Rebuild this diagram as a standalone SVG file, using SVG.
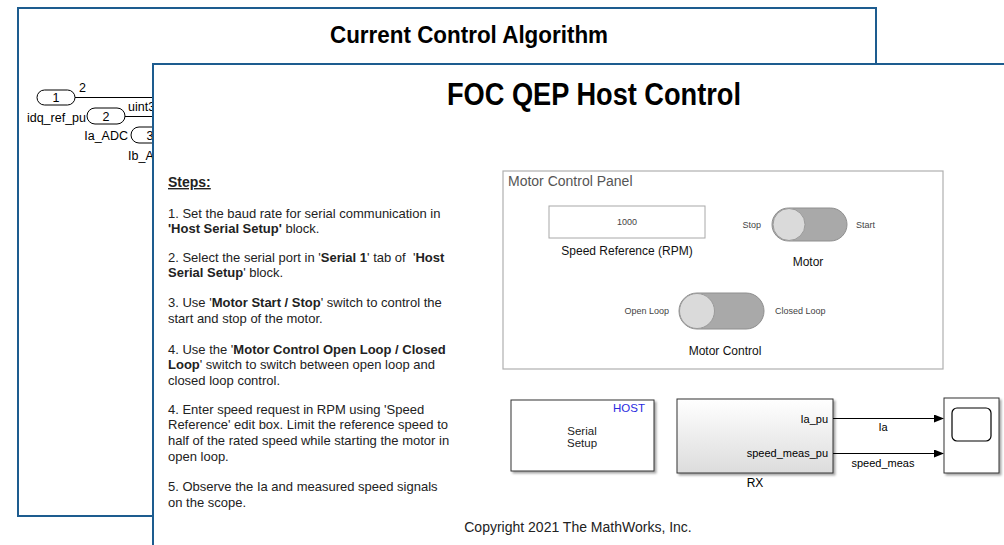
<svg xmlns="http://www.w3.org/2000/svg" width="1004" height="545" viewBox="0 0 1004 545">
  <defs>
    <linearGradient id="blockGrad" x1="0" y1="0" x2="0" y2="1">
      <stop offset="0" stop-color="#ffffff"/>
      <stop offset="1" stop-color="#dcdcdc"/>
    </linearGradient>
    <filter id="shadow" x="-10%" y="-10%" width="130%" height="130%">
      <feDropShadow dx="2" dy="2" stdDeviation="1.2" flood-color="#000" flood-opacity="0.35"/>
    </filter>
    <marker id="arrow" markerWidth="10" markerHeight="8" refX="9" refY="4" orient="auto" markerUnits="userSpaceOnUse">
      <path d="M0,0 L10,4 L0,8 Z" fill="#000"/>
    </marker>
  </defs>
  <style>
    text { font-family: "Liberation Sans", Arial, sans-serif; }
    .win { fill: #fff; stroke: #1d5c8f; stroke-width: 2; }
    .port { fill: #fff; stroke: #000; stroke-width: 1; }
    .sig { stroke: #000; stroke-width: 1; fill: none; }
    .lbl { font-size: 11px; }
    .plbl { font-size: 12.5px; }
    .step { font-size: 13px; fill: #222; }
    .step tspan.b { font-weight: bold; }
    .small { font-size: 9px; fill: #444; }
    .ctl { font-size: 12px; fill: #111; }
    .track { fill: #a9a9a9; stroke: #8f8f8f; stroke-width: 1; }
    .knob { fill: #dadada; stroke: #9a9a9a; stroke-width: 1; }
    .block { stroke: #333; stroke-width: 1; }
    .host { fill: #2a2ae0; font-size: 11.5px; }
  </style>

  <!-- background subsystem window -->
  <g id="current-control-window">
    <rect class="win" x="18" y="8" width="858" height="508"/>
    <text x="469" y="43" font-size="24" font-weight="bold" text-anchor="middle" textLength="278" lengthAdjust="spacingAndGlyphs">Current Control Algorithm</text>
    <g id="inport-1">
      <rect class="port" x="37" y="90" width="38" height="15" rx="7.5"/>
      <text x="56" y="102" class="plbl" text-anchor="middle">1</text>
      <text x="86" y="122" class="plbl" text-anchor="end">idq_ref_pu</text>
    </g>
    <g id="inport-2">
      <rect class="port" x="87" y="108" width="38" height="16" rx="8"/>
      <text x="106" y="120.5" class="plbl" text-anchor="middle">2</text>
      <text x="128" y="140" class="plbl" text-anchor="end">Ia_ADC</text>
    </g>
    <g id="inport-3">
      <rect class="port" x="131" y="127" width="38" height="16" rx="8"/>
      <text x="150" y="139.5" class="plbl" text-anchor="middle">3</text>
      <text x="128" y="160" class="plbl">Ib_ADC</text>
    </g>
    <g id="inport-signals">
      <line class="sig" x1="75" y1="97.5" x2="160" y2="97.5"/>
      <line class="sig" x1="125" y1="116.5" x2="160" y2="116.5"/>
      <text x="79" y="92" class="plbl">2</text>
      <text x="128" y="111" class="plbl">uint32</text>
    </g>
  </g>

  <!-- foreground host model window -->
  <g id="host-control-window">
    <rect class="win" x="153" y="64" width="860" height="490"/>
    <text x="594" y="105" font-size="32" font-weight="bold" text-anchor="middle" textLength="294" lengthAdjust="spacingAndGlyphs">FOC QEP Host Control</text>
  </g>

  <!-- instructions annotation -->
  <g id="steps">
    <text x="168" y="187" font-size="14" font-weight="bold" text-decoration="underline" style="fill:#222">Steps:</text>
    <text class="step" x="168" y="218">1. Set the baud rate for serial communication in</text>
    <text class="step" x="168" y="233"><tspan class="b">'Host Serial Setup'</tspan> block.</text>
    <text class="step" x="168" y="262">2. Select the serial port in '<tspan class="b">Serial 1</tspan>' tab of&#160; '<tspan class="b">Host</tspan></text>
    <text class="step" x="168" y="277"><tspan class="b">Serial Setup</tspan>' block.</text>
    <text class="step" x="168" y="307">3. Use '<tspan class="b">Motor Start / Stop</tspan>' switch to control the</text>
    <text class="step" x="168" y="323">start and stop of the motor.</text>
    <text class="step" x="168" y="354">4. Use the '<tspan class="b">Motor Control Open Loop / Closed</tspan></text>
    <text class="step" x="168" y="369"><tspan class="b">Loop</tspan>' switch to switch between open loop and</text>
    <text class="step" x="168" y="385">closed loop control.</text>
    <text class="step" x="168" y="414">4. Enter speed request in RPM using 'Speed</text>
    <text class="step" x="168" y="429">Reference' edit box. Limit the reference speed to</text>
    <text class="step" x="168" y="445">half of the rated speed while starting the motor in</text>
    <text class="step" x="168" y="461">open loop.</text>
    <text class="step" x="168" y="491">5. Observe the Ia and measured speed signals</text>
    <text class="step" x="168" y="507">on the scope.</text>
  </g>

  <!-- dashboard panel -->
  <g id="motor-control-panel">
    <rect x="503" y="171" width="440" height="198" fill="#fff" stroke="#b0b0b0" stroke-width="1.2"/>
    <text x="508" y="186" font-size="14" style="fill:#555">Motor Control Panel</text>
  </g>
  <g id="speed-reference">
    <rect x="549" y="206" width="156" height="32" fill="#fff" stroke="#a8a8a8" stroke-width="1"/>
    <text x="627" y="225" font-size="9" style="fill:#444" text-anchor="middle">1000</text>
    <text x="627" y="255" class="ctl" text-anchor="middle">Speed Reference (RPM)</text>
  </g>
  <g id="motor-switch">
    <text x="761" y="228" class="small" text-anchor="end">Stop</text>
    <rect class="track" x="772" y="208" width="75" height="33" rx="16.5"/>
    <circle class="knob" cx="789" cy="224.5" r="16"/>
    <text x="856" y="228" class="small">Start</text>
    <text x="808" y="266" class="ctl" text-anchor="middle">Motor</text>
  </g>
  <g id="loop-switch">
    <text x="669" y="314" class="small" text-anchor="end">Open Loop</text>
    <rect class="track" x="679" y="293" width="85" height="36" rx="18"/>
    <circle class="knob" cx="697" cy="311" r="17.5"/>
    <text x="775" y="314" class="small">Closed Loop</text>
    <text x="725" y="355" class="ctl" text-anchor="middle">Motor Control</text>
  </g>

  <!-- model blocks -->
  <g id="serial-setup">
    <rect class="block" x="511" y="400" width="143" height="71" fill="#fff" filter="url(#shadow)"/>
    <text x="645" y="412" class="host" text-anchor="end">HOST</text>
    <text x="582" y="435" font-size="11.5" text-anchor="middle" style="fill:#222">Serial</text>
    <text x="582" y="447" font-size="11.5" text-anchor="middle" style="fill:#222">Setup</text>
  </g>
  <g id="rx">
    <rect class="block" x="677" y="399" width="156" height="74" fill="url(#blockGrad)" filter="url(#shadow)"/>
    <text x="828" y="423" class="lbl" text-anchor="end">Ia_pu</text>
    <text x="828" y="457" class="lbl" text-anchor="end">speed_meas_pu</text>
    <text x="755" y="487" font-size="12" text-anchor="middle">RX</text>
  </g>
  <g id="scope">
    <rect class="block" x="944" y="398" width="55" height="75" fill="#fff" filter="url(#shadow)"/>
    <rect x="952" y="408" width="39" height="33" rx="5" fill="#fff" stroke="#000" stroke-width="1.2"/>
  </g>

  <g id="connectors">
    <line class="sig" x1="833" y1="418.5" x2="943" y2="418.5" marker-end="url(#arrow)"/>
    <line class="sig" x1="833" y1="453.5" x2="943" y2="453.5" marker-end="url(#arrow)"/>
    <text x="883" y="431" class="lbl" text-anchor="middle">Ia</text>
    <text x="883" y="467" class="lbl" text-anchor="middle">speed_meas</text>
  </g>

  <text x="578" y="532" font-size="14" text-anchor="middle" style="fill:#222">Copyright 2021 The MathWorks, Inc.</text>
</svg>
